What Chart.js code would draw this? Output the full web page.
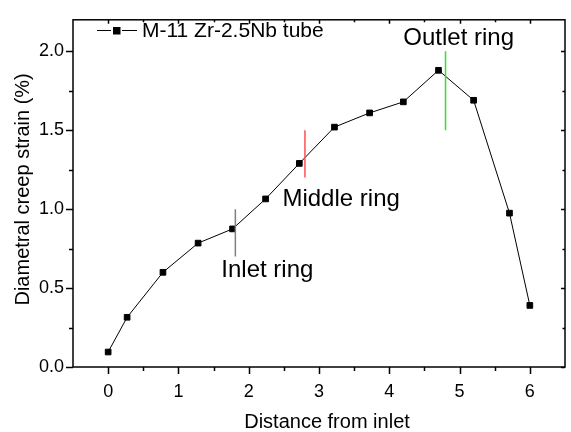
<!DOCTYPE html>
<html>
<head>
<meta charset="utf-8">
<script src="https://cdn.jsdelivr.net/npm/chart.js@4.4.1/dist/chart.umd.min.js"></script>
<style>
  html, body { margin: 0; padding: 0; background: #fff; }
  #wrap { width: 571px; height: 432px; }
</style>
</head>
<body>
<div id="wrap"><canvas id="creep" width="571" height="432"></canvas></div>
<script>
// Valeurs
const distance = [0, 0.27, 0.78, 1.28, 1.77, 2.24, 2.72, 3.22, 3.72, 4.2, 4.7, 5.2, 5.71, 6.0];
const strain = [0.095, 0.315, 0.60, 0.785, 0.875, 1.065, 1.29, 1.52, 1.61, 1.68, 1.88, 1.69, 0.975, 0.39];

// Repères des anneaux
const ringNames = ['Inlet ring', 'Middle ring', 'Outlet ring'];
const ringX = [1.81, 2.8, 4.8];
const ringLow = [0.7, 1.2, 1.5];
const ringHigh = [1.0, 1.5, 2.0];

// Graduations
const xTicks = [0, 1, 2, 3, 4, 5, 6];
const xMinor = [0.5, 1.5, 2.5, 3.5, 4.5, 5.5];
const yTicks = [0, 0.5, 1.0, 1.5, 2.0];
const yMinor = [0.25, 0.75, 1.25, 1.75];

const seriesLabel = 'M-11 Zr-2.5Nb tube';
const xTitle = 'Distance from inlet';
const yTitle = 'Diametral creep strain (%)';

const FONT = "'Liberation Sans', Arial, sans-serif";
const ringColors = ['#808080', '#ff5050', '#30e030'];
// position des étiquettes (coordonnées données, coin gauche / ligne de base)
const ringLabelAt = [[1.61, 0.57], [2.48, 1.02], [4.2, 2.04]];

const datasets = [{
    label: seriesLabel,
    data: distance.map((x, i) => ({ x: x, y: strain[i] })),
    borderColor: '#000',
    backgroundColor: '#000',
    borderWidth: 1,
    pointStyle: 'rect',
    pointRadius: 4,
    pointHoverRadius: 4,
    tension: 0,
    order: 1
}];
ringX.forEach((x, i) => {
    datasets.push({
        label: ringNames[i],
        data: [{ x: x, y: ringLow[i] }, { x: x, y: ringHigh[i] }],
        borderColor: ringColors[i],
        borderWidth: 1.5,
        pointRadius: 0,
        order: 0
    });
});

const framePlugin = {
    id: 'frame',
    afterDraw(chart) {
        const ctx = chart.ctx;
        const a = chart.chartArea;
        const xs = chart.scales.x, ys = chart.scales.y;
        ctx.save();
        ctx.strokeStyle = '#000';
        ctx.lineWidth = 1.5;
        ctx.strokeRect(a.left, a.top, a.right - a.left, a.bottom - a.top);

        ctx.beginPath();
        xTicks.forEach(v => {
            const p = Math.round(xs.getPixelForValue(v)) + 0.5;
            ctx.moveTo(p, a.bottom); ctx.lineTo(p, a.bottom + 7);
            ctx.moveTo(p, a.top); ctx.lineTo(p, a.top + 4);
        });
        xMinor.forEach(v => {
            const p = Math.round(xs.getPixelForValue(v)) + 0.5;
            ctx.moveTo(p, a.bottom); ctx.lineTo(p, a.bottom + 4);
            ctx.moveTo(p, a.top); ctx.lineTo(p, a.top + 2.5);
        });
        yTicks.forEach(v => {
            const p = Math.round(ys.getPixelForValue(v)) + 0.5;
            ctx.moveTo(a.left, p); ctx.lineTo(a.left - 7, p);
            ctx.moveTo(a.right, p); ctx.lineTo(a.right - 4, p);
        });
        yMinor.forEach(v => {
            const p = Math.round(ys.getPixelForValue(v)) + 0.5;
            ctx.moveTo(a.left, p); ctx.lineTo(a.left - 4, p);
            ctx.moveTo(a.right, p); ctx.lineTo(a.right - 2.5, p);
        });
        ctx.stroke();

        // étiquettes des anneaux
        ctx.fillStyle = '#000';
        ctx.font = '24px ' + FONT;
        ctx.textAlign = 'left';
        ctx.textBaseline = 'alphabetic';
        ringNames.forEach((t, i) => {
            ctx.fillText(t, xs.getPixelForValue(ringLabelAt[i][0]), ys.getPixelForValue(ringLabelAt[i][1]));
        });

        // légende
        const ly = 30.5;
        ctx.lineWidth = 1;
        ctx.beginPath();
        ctx.moveTo(97, ly); ctx.lineTo(111, ly);
        ctx.moveTo(122, ly); ctx.lineTo(137, ly);
        ctx.stroke();
        ctx.fillRect(113, ly - 3.5, 7.5, 7.5);
        ctx.font = '21px ' + FONT;
        ctx.textBaseline = 'middle';
        ctx.fillText(seriesLabel, 142, ly + 1);

        // titres des axes
        ctx.font = '20px ' + FONT;
        ctx.textAlign = 'center';
        ctx.textBaseline = 'alphabetic';
        ctx.fillText(xTitle, (a.left + a.right) / 2 + 8, 428);
        ctx.save();
        ctx.translate(29, (a.top + a.bottom) / 2 - 4);
        ctx.rotate(-Math.PI / 2);
        ctx.fillText(yTitle, 0, 0);
        ctx.restore();
        ctx.restore();
    }
};

new Chart(document.getElementById('creep').getContext('2d'), {
    type: 'line',
    data: { datasets: datasets },
    options: {
        responsive: false,
        animation: false,
        devicePixelRatio: 1,
        layout: { padding: { left: 0, top: 6, right: 6, bottom: 0 } },
        plugins: {
            legend: { display: false },
            tooltip: { enabled: false }
        },
        scales: {
            x: {
                type: 'linear',
                min: -0.5,
                max: 6.5,
                afterBuildTicks: s => { s.ticks = xTicks.map(v => ({ value: v })); },
                afterFit: s => { s.height = 65; },
                grid: { display: false, drawTicks: false },
                border: { display: false },
                ticks: {
                    color: '#000',
                    font: { family: FONT, size: 18 },
                    padding: 14,
                    maxRotation: 0,
                    callback: v => String(v)
                }
            },
            y: {
                type: 'linear',
                min: 0,
                max: 2.2,
                afterBuildTicks: s => { s.ticks = yTicks.map(v => ({ value: v })); },
                afterFit: s => { s.width = 73; },
                grid: { display: false, drawTicks: false },
                border: { display: false },
                ticks: {
                    color: '#000',
                    font: { family: FONT, size: 18 },
                    padding: 9,
                    callback: v => Number(v).toFixed(1)
                }
            }
        }
    },
    plugins: [framePlugin]
});
</script>
</body>
</html>
